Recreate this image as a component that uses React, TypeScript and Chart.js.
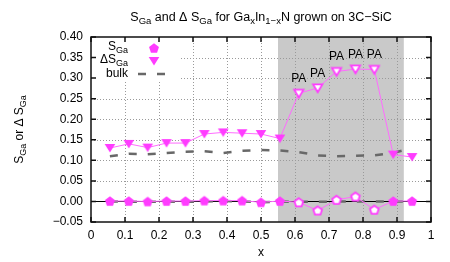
import React, { useEffect, useRef } from 'react';
import { Chart, registerables } from 'chart.js';

Chart.register(...registerables);

// ---- data ----
const xValues = [0.0556, 0.1111, 0.1667, 0.2222, 0.2778, 0.3333, 0.3889, 0.4444, 0.5, 0.5556, 0.6111, 0.6667, 0.7222, 0.7778, 0.8333, 0.8889, 0.9444];
const sGa = [0.001, 0.001, 0.0, 0.001, 0.001, 0.002, 0.002, 0.002, -0.002, 0.001, -0.002, -0.022, 0.004, 0.012, -0.020, 0.001, 0.001];
const deltaSGa = [0.130, 0.140, 0.131, 0.142, 0.142, 0.164, 0.168, 0.166, 0.164, 0.153, 0.263, 0.276, 0.316, 0.322, 0.321, 0.114, 0.108];
const bulkDelta = [0.110, 0.116, 0.115, 0.118, 0.121, 0.122, 0.118, 0.123, 0.125, 0.124, 0.120, 0.112, 0.110, 0.111, 0.112, 0.118, 0.130];
const bulkS = [0.0, -0.001, -0.001, 0.0, -0.001, 0.0, 0.001, 0.0, -0.002, 0.0, -0.001, -0.001, 0.0, 0.0, 0.0, 0.0, 0.0];
const paFlags = [false, false, false, false, false, false, false, false, false, false, true, true, true, true, true, false, false];
const paLabel = 'PA';
const shadedRange = [0.55, 0.92];
const xTicks = [0, 0.1, 0.2, 0.3, 0.4, 0.5, 0.6, 0.7, 0.8, 0.9, 1];
const yTicks = [-0.05, 0, 0.05, 0.1, 0.15, 0.2, 0.25, 0.3, 0.35, 0.4];

type Seg = [string, boolean];
const titleSegs: Seg[] = [['S', false], ['Ga', true], [' and \u0394 S', false], ['Ga', true], [' for Ga', false], ['x', true], ['In', false], ['1\u2212x', true], ['N grown on 3C\u2212SiC', false]];
const yTitleSegs: Seg[] = [['S', false], ['Ga', true], [' or \u0394 S', false], ['Ga', true]];
const xTitle = 'x';
const legendRows: Seg[][] = [
  [['S', false], ['Ga', true]],
  [['\u0394S', false], ['Ga', true]],
  [['bulk', false]],
];

const FONT = '"Liberation Sans", Arial, Helvetica, sans-serif';
const MAGENTA = '#ff3cff';
const LINE_MAGENTA = '#ff6cff';
const BULK = '#686868';

function segWidth(ctx: CanvasRenderingContext2D, segs: Seg[], size: number, sub: number) {
  let w = 0;
  for (const [t, s] of segs) {
    ctx.font = `${s ? sub : size}px ${FONT}`;
    w += ctx.measureText(t).width;
  }
  return w;
}

function drawRich(ctx: CanvasRenderingContext2D, segs: Seg[], x: number, y: number, align: 'left' | 'center' | 'right', size = 12, sub = 9) {
  const w = segWidth(ctx, segs, size, sub);
  let cx = align === 'left' ? x : align === 'center' ? x - w / 2 : x - w;
  ctx.textAlign = 'left';
  ctx.textBaseline = 'middle';
  for (const [t, s] of segs) {
    ctx.font = `${s ? sub : size}px ${FONT}`;
    ctx.fillText(t, cx, s ? y + 4 : y);
    cx += ctx.measureText(t).width;
  }
}

function makeMarker(kind: 'pent' | 'tri', hollow: boolean) {
  const c = document.createElement('canvas');
  c.width = 14;
  c.height = 14;
  const g = c.getContext('2d')!;
  g.translate(7, 7);
  g.beginPath();
  if (kind === 'pent') {
    const r = hollow ? 4.6 : 5.2;
    for (let k = 0; k < 5; k++) {
      const a = -Math.PI / 2 + (k * 2 * Math.PI) / 5;
      const px = r * Math.cos(a);
      const py = r * Math.sin(a) + 0.5;
      if (k === 0) g.moveTo(px, py);
      else g.lineTo(px, py);
    }
  } else {
    const w = hollow ? 4.6 : 5.3;
    const t = hollow ? -3.6 : -4.0;
    const b = hollow ? 4.2 : 4.6;
    g.moveTo(-w, t);
    g.lineTo(w, t);
    g.lineTo(0, b);
  }
  g.closePath();
  if (hollow) {
    g.fillStyle = '#ffffff';
    g.fill();
    g.strokeStyle = MAGENTA;
    g.lineWidth = 1.8;
    g.stroke();
  } else {
    g.fillStyle = MAGENTA;
    g.fill();
  }
  return c;
}

export default function App() {
  const ref = useRef<HTMLCanvasElement | null>(null);

  useEffect(() => {
    document.body.style.margin = '0';
    const canvas = ref.current!;
    const pentF = makeMarker('pent', false);
    const pentH = makeMarker('pent', true);
    const triF = makeMarker('tri', false);
    const triH = makeMarker('tri', true);

    const decor = {
      id: 'decor',
      beforeDatasetsDraw(chart: any) {
        const { ctx, chartArea: a, scales } = chart;
        const xs = scales.x;
        const ys = scales.y;
        ctx.save();
        // shaded region
        const sx0 = xs.getPixelForValue(shadedRange[0]);
        const sx1 = xs.getPixelForValue(shadedRange[1]);
        ctx.fillStyle = '#c9c9c9';
        ctx.fillRect(sx0, a.top, sx1 - sx0, a.bottom - a.top);
        // dotted grid
        ctx.strokeStyle = '#9a9a9a';
        ctx.lineWidth = 1;
        ctx.setLineDash([1, 2]);
        for (const v of xTicks) {
          if (v === xTicks[0] || v === xTicks[xTicks.length - 1]) continue;
          const px = Math.round(xs.getPixelForValue(v)) + 0.5;
          ctx.beginPath();
          ctx.moveTo(px, a.top);
          ctx.lineTo(px, a.bottom);
          ctx.stroke();
        }
        for (const v of yTicks) {
          if (v === yTicks[0] || v === yTicks[yTicks.length - 1] || v === 0) continue;
          const py = Math.round(ys.getPixelForValue(v)) + 0.5;
          ctx.beginPath();
          ctx.moveTo(a.left, py);
          ctx.lineTo(a.right, py);
          ctx.stroke();
        }
        ctx.setLineDash([]);
        // legend box (opaque)
        ctx.fillStyle = '#ffffff';
        ctx.fillRect(a.left + 1, a.top + 1, 88, 43);
        // zero line
        const y0 = Math.round(ys.getPixelForValue(0)) + 0.5;
        ctx.strokeStyle = '#000';
        ctx.lineWidth = 1;
        ctx.beginPath();
        ctx.moveTo(a.left, y0);
        ctx.lineTo(a.right, y0);
        ctx.stroke();
        // border
        ctx.strokeStyle = '#111';
        ctx.lineWidth = 1.5;
        ctx.strokeRect(a.left, a.top, a.right - a.left, a.bottom - a.top);
        // inward ticks
        ctx.lineWidth = 1.5;
        const tl = 5;
        for (const v of xTicks) {
          const px = xs.getPixelForValue(v);
          ctx.beginPath();
          ctx.moveTo(px, a.bottom);
          ctx.lineTo(px, a.bottom - tl);
          ctx.moveTo(px, a.top);
          ctx.lineTo(px, a.top + tl);
          ctx.stroke();
        }
        for (const v of yTicks) {
          const py = ys.getPixelForValue(v);
          ctx.beginPath();
          ctx.moveTo(a.left, py);
          ctx.lineTo(a.left + tl, py);
          ctx.moveTo(a.right, py);
          ctx.lineTo(a.right - tl, py);
          ctx.stroke();
        }
        ctx.restore();
      },
      afterDatasetsDraw(chart: any) {
        const { ctx, chartArea: a, scales } = chart;
        const xs = scales.x;
        const ys = scales.y;
        ctx.save();
        ctx.fillStyle = '#000';
        ctx.font = `12px ${FONT}`;
        ctx.textAlign = 'center';
        ctx.textBaseline = 'middle';
        xValues.forEach((xv, i) => {
          if (!paFlags[i]) return;
          ctx.fillText(paLabel, xs.getPixelForValue(xv), ys.getPixelForValue(deltaSGa[i]) - 14.5);
        });
        // legend
        const rowY = [a.top + 11, a.top + 24, a.top + 37];
        const textRight = a.left + 37;
        const symX = a.left + 63;
        legendRows.forEach((segs, i) => drawRich(ctx, segs, textRight, rowY[i] - (i < 2 ? 1 : 0), 'right'));
        ctx.drawImage(pentF, symX - 7, rowY[0] - 7);
        ctx.drawImage(triF, symX - 7, rowY[1] - 7);
        ctx.strokeStyle = BULK;
        ctx.lineWidth = 2.5;
        ctx.setLineDash([8, 11]);
        ctx.beginPath();
        ctx.moveTo(symX - 16, rowY[2]);
        ctx.lineTo(symX + 11, rowY[2]);
        ctx.stroke();
        ctx.restore();
      },
      afterDraw(chart: any) {
        const { ctx, chartArea: a } = chart;
        ctx.save();
        ctx.fillStyle = '#000';
        drawRich(ctx, titleSegs, (a.left + a.right) / 2, 17.5, 'center', 12.5, 9.5);
        ctx.font = `12px ${FONT}`;
        ctx.textAlign = 'center';
        ctx.textBaseline = 'middle';
        ctx.fillText(xTitle, (a.left + a.right) / 2, 252.5);
        ctx.translate(20, (a.top + a.bottom) / 2);
        ctx.rotate(-Math.PI / 2);
        drawRich(ctx, yTitleSegs, 0, 0, 'center', 12, 9);
        ctx.restore();
      },
    };

    const pts = (ys: number[]) => xValues.map((x, i) => ({ x, y: ys[i] }));

    const chart = new Chart(canvas, {
      type: 'scatter',
      data: {
        datasets: [
          {
            label: 'SGa',
            data: pts(sGa),
            showLine: true,
            borderColor: LINE_MAGENTA,
            borderWidth: 1,
            pointStyle: (c: any) => (paFlags[c.dataIndex] ? pentH : pentF),
            pointRadius: 5,
          },
          {
            label: 'dSGa',
            data: pts(deltaSGa),
            showLine: true,
            borderColor: LINE_MAGENTA,
            borderWidth: 1,
            pointStyle: (c: any) => (paFlags[c.dataIndex] ? triH : triF),
            pointRadius: 5,
          },
          {
            label: 'bulk',
            data: pts(bulkDelta),
            showLine: true,
            borderColor: BULK,
            borderWidth: 2.5,
            borderDash: [8, 11],
            pointRadius: 0,
          },
          {
            label: 'bulk0',
            data: pts(bulkS),
            showLine: true,
            borderColor: BULK,
            borderWidth: 2.5,
            borderDash: [8, 11],
            pointRadius: 0,
          },
        ],
      } as any,
      options: {
        animation: false,
        responsive: false,
        devicePixelRatio: 1,
        layout: { padding: { top: 37, right: 19, left: 0, bottom: 0 } },
        plugins: { legend: { display: false }, tooltip: { enabled: false }, title: { display: false } },
        scales: {
          x: {
            type: 'linear',
            min: 0,
            max: 1,
            afterBuildTicks: (s: any) => {
              s.ticks = xTicks.map((v) => ({ value: v }));
            },
            afterFit: (s: any) => {
              s.height = 40;
            },
            ticks: {
              autoSkip: false,
              maxRotation: 0,
              padding: 6,
              color: '#000',
              font: { family: FONT, size: 12 },
              callback: (v: any) => String(Number(Number(v).toFixed(1))),
            },
            grid: { display: false, drawTicks: false },
            border: { display: false },
          },
          y: {
            type: 'linear',
            min: -0.05,
            max: 0.4,
            afterBuildTicks: (s: any) => {
              s.ticks = yTicks.map((v) => ({ value: v }));
            },
            afterFit: (s: any) => {
              s.width = 91;
            },
            ticks: {
              autoSkip: false,
              padding: 8,
              color: '#000',
              font: { family: FONT, size: 12 },
              callback: (v: any) => Number(v).toFixed(2).replace('-', '\u2212'),
            },
            grid: { display: false, drawTicks: false },
            border: { display: false },
          },
        },
      } as any,
      plugins: [decor],
    });
    return () => chart.destroy();
  }, []);

  return <canvas ref={ref} width={450} height={262} style={{ display: 'block' }} />;
}
